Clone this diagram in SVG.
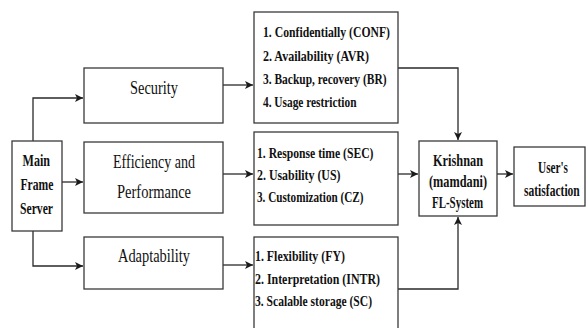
<svg xmlns="http://www.w3.org/2000/svg" width="586" height="328" viewBox="0 0 586 328">
<style>
.box{fill:#fff;stroke:#3a3a3a;stroke-width:1.3}
.ln{fill:none;stroke:#2a2a2a;stroke-width:1.3}
text{font-family:'Liberation Serif','Times New Roman','DejaVu Serif',serif;fill:#111}
.t{font-size:19px}
.b{font-size:17.5px;font-weight:bold}
.l{font-size:15px;font-weight:bold}
</style>
<defs>
<marker id="ah" markerUnits="userSpaceOnUse" markerWidth="9" markerHeight="8" refX="8" refY="4" orient="auto">
<path d="M0,0 L8,4 L0,8 L2,4 Z" fill="#1a1a1a"/>
</marker>
</defs>
<rect width="586" height="328" fill="#fff"/>
<g id="connectors">
<path class="ln" d="M33,141 V98 H83" marker-end="url(#ah)"/>
<path class="ln" d="M62,182 H83" marker-end="url(#ah)"/>
<path class="ln" d="M33,231 V266 H83" marker-end="url(#ah)"/>
<path class="ln" d="M223,85 H253" marker-end="url(#ah)"/>
<path class="ln" d="M223,174 H253" marker-end="url(#ah)"/>
<path class="ln" d="M223,265 H253" marker-end="url(#ah)"/>
<path class="ln" d="M398,68 H458 V140" marker-end="url(#ah)"/>
<path class="ln" d="M398,174 H418" marker-end="url(#ah)"/>
<path class="ln" d="M398,289 H458 V217" marker-end="url(#ah)"/>
<path class="ln" d="M497,174 H513" marker-end="url(#ah)"/>
</g>
<g id="main">
<rect class="box" x="12" y="141" width="50" height="90"/>
<text class="b" x="22.5" y="166" textLength="27.5" lengthAdjust="spacingAndGlyphs">Main</text>
<text class="b" x="20.5" y="190" textLength="33" lengthAdjust="spacingAndGlyphs">Frame</text>
<text class="b" x="20" y="214" textLength="33" lengthAdjust="spacingAndGlyphs">Server</text>
</g>
<g id="security">
<rect class="box" x="84" y="68" width="139" height="55"/>
<text class="t" x="130" y="93.5" textLength="48" lengthAdjust="spacingAndGlyphs">Security</text>
</g>
<g id="efficiency">
<rect class="box" x="84" y="142" width="139" height="71"/>
<text class="t" x="113" y="167.5" textLength="82" lengthAdjust="spacingAndGlyphs">Efficiency and</text>
<text class="t" x="117" y="198" textLength="74" lengthAdjust="spacingAndGlyphs">Performance</text>
</g>
<g id="adaptability">
<rect class="box" x="84" y="237" width="139" height="52"/>
<text class="t" x="118" y="261.5" textLength="72" lengthAdjust="spacingAndGlyphs">Adaptability</text>
</g>
<g id="security-list">
<rect class="box" x="254" y="12" width="144" height="111"/>
<text class="l" x="263" y="37" textLength="127" lengthAdjust="spacingAndGlyphs">1. Confidentially (CONF)</text>
<text class="l" x="263" y="60.5" textLength="106" lengthAdjust="spacingAndGlyphs">2. Availability (AVR)</text>
<text class="l" x="263" y="83.5" textLength="123.5" lengthAdjust="spacingAndGlyphs">3. Backup, recovery (BR)</text>
<text class="l" x="263" y="107" textLength="93.5" lengthAdjust="spacingAndGlyphs">4. Usage restriction</text>
</g>
<g id="efficiency-list">
<rect class="box" x="254" y="132" width="144" height="93"/>
<text class="l" x="257" y="158" textLength="116.5" lengthAdjust="spacingAndGlyphs">1. Response time (SEC)</text>
<text class="l" x="257" y="180" textLength="83.5" lengthAdjust="spacingAndGlyphs">2. Usability (US)</text>
<text class="l" x="257" y="202" textLength="106.5" lengthAdjust="spacingAndGlyphs">3. Customization (CZ)</text>
</g>
<g id="adaptability-list">
<rect class="box" x="254" y="237" width="144" height="100"/>
<text class="l" x="255" y="261" textLength="90" lengthAdjust="spacingAndGlyphs">1. Flexibility (FY)</text>
<text class="l" x="255" y="283.5" textLength="125" lengthAdjust="spacingAndGlyphs">2. Interpretation (INTR)</text>
<text class="l" x="255" y="306" textLength="117" lengthAdjust="spacingAndGlyphs">3. Scalable storage (SC)</text>
</g>
<g id="krishnan">
<rect class="box" x="419" y="141" width="78" height="75"/>
<text class="b" x="433" y="166" textLength="50" lengthAdjust="spacingAndGlyphs">Krishnan</text>
<text class="b" x="429" y="187" textLength="58" lengthAdjust="spacingAndGlyphs">(mamdani)</text>
<text class="b" x="432" y="208" textLength="51" lengthAdjust="spacingAndGlyphs">FL-System</text>
</g>
<g id="users-satisfaction">
<rect class="box" x="514" y="147" width="71" height="59"/>
<text class="b" x="538" y="173" textLength="30" lengthAdjust="spacingAndGlyphs">User's</text>
<text class="b" transform="translate(524,196) scale(0.66,1)" x="0" y="0">satisfaction</text>
</g>
</svg>
